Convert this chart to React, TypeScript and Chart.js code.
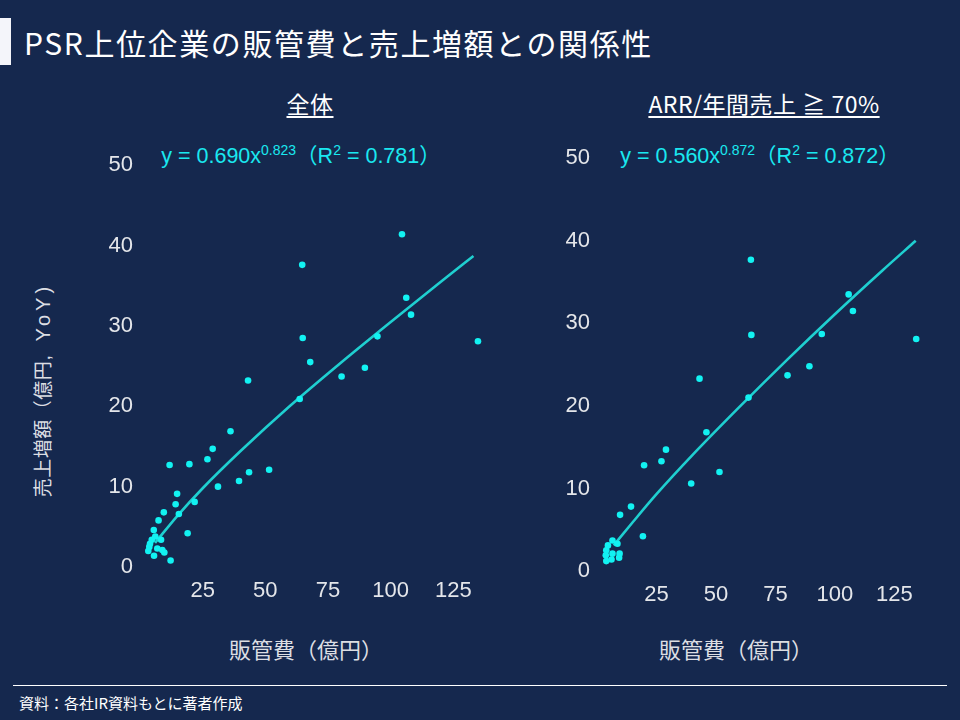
import React, { useEffect, useRef } from "react";
import { Chart, registerables } from "chart.js";

Chart.register(...registerables);

// 全体 (all companies): SG&A (x) vs revenue growth (y), 億円
const allSga = [
  104.5, 64.7, 106.2, 108.1, 64.9, 94.7, 134.8, 67.9, 80.4, 89.7, 43.1, 63.7, 36.1, 29.0, 26.9, 19.7,
  11.8, 51.5, 43.5, 39.5, 31.1, 14.8, 14.2, 21.8, 15.5, 9.5, 7.4, 19.0, 5.5, 12.2, 5.6, 6.1, 8.4, 4.7,
  4.0, 3.7, 6.9, 3.3, 8.9, 9.7,
];
const allGrowth = [
  41.4, 37.6, 33.5, 31.4, 28.5, 28.7, 28.1, 25.5, 23.7, 24.8, 23.2, 20.9, 16.9, 14.7, 13.4, 12.8,
  12.7, 12.1, 11.8, 10.7, 10.0, 9.1, 7.8, 8.1, 6.6, 6.8, 5.8, 4.2, 4.6, 0.8, 1.4, 3.8, 3.4, 3.4,
  2.9, 2.5, 2.3, 2.0, 2.1, 1.8,
];
// trend curve
const allTrendX = [6, 15, 25, 40, 60, 80, 100, 120, 133];
const allTrendY = [3.0, 6.4, 9.8, 14.4, 20.1, 25.4, 30.5, 35.5, 38.7];

// ARR/年間売上 ≧ 70%
const arrSga = [
  64.7, 105.8, 107.6, 64.9, 94.5, 134.2, 89.3, 80.1, 43.1, 63.7, 46.0, 29.0, 27.1, 19.8, 51.5, 39.6,
  14.3, 9.7, 19.3, 6.5, 4.6, 8.6, 3.9, 3.7, 9.5, 9.3, 6.5, 3.9, 6.1,
];
const arrGrowth = [
  37.7, 33.5, 31.5, 28.6, 28.7, 28.1, 24.8, 23.7, 23.3, 21.0, 16.8, 14.7, 13.3, 12.8, 12.0, 10.6,
  7.8, 6.8, 4.2, 3.7, 3.1, 3.3, 2.5, 1.9, 2.1, 1.6, 2.1, 1.2, 1.4,
];
const arrTrendX = [7, 15, 25, 40, 60, 80, 100, 120, 134];
const arrTrendY = [3.1, 5.9, 9.3, 14.0, 19.9, 25.6, 31.1, 36.4, 40.0];

const xTicks = [25, 50, 75, 100, 125];
const yTicks = [0, 10, 20, 30, 40, 50];

const BG = "#15284e";
const DOT = "#12f2f2";
const LINE = "#1fcfd0";
const TICK = "#e4e6ea";
const CJK = "'Noto Sans CJK JP', 'Liberation Sans', sans-serif";
const LATIN = "'Liberation Sans', 'Noto Sans CJK JP', sans-serif";

interface PanelProps {
  xs: number[];
  ys: number[];
  tx: number[];
  ty: number[];
  left: number;
  top: number;
  width: number;
  height: number;
}

const ScatterPanel: React.FC<PanelProps> = ({ xs, ys, tx, ty, left, top, width, height }) => {
  const ref = useRef<HTMLCanvasElement>(null);

  useEffect(() => {
    if (!ref.current) return;
    const chart = new Chart(ref.current, {
      type: "scatter",
      data: {
        datasets: [
          {
            data: xs.map((x, i) => ({ x, y: ys[i] })),
            pointRadius: 3.3,
            pointBackgroundColor: DOT,
            pointBorderWidth: 0,
            order: 1,
          },
          {
            data: tx.map((x, i) => ({ x, y: ty[i] })),
            showLine: true,
            pointRadius: 0,
            borderColor: LINE,
            borderWidth: 2.6,
            cubicInterpolationMode: "monotone",
            order: 2,
          } as any,
        ],
      },
      options: {
        responsive: false,
        animation: false,
        layout: { padding: { top: 20, right: 5, left: 0, bottom: 0 } },
        plugins: { legend: { display: false }, tooltip: { enabled: false } },
        scales: {
          x: {
            type: "linear",
            min: 0,
            max: 140,
            afterBuildTicks: (s: any) => {
              s.ticks = xTicks.map((v) => ({ value: v }));
            },
            afterFit: (s: any) => {
              s.height = 40;
            },
            grid: { display: false, drawTicks: false },
            border: { display: false },
            ticks: { color: TICK, font: { family: LATIN, size: 22 }, padding: 11 },
          },
          y: {
            type: "linear",
            min: 0,
            max: 50,
            afterBuildTicks: (s: any) => {
              s.ticks = yTicks.map((v) => ({ value: v }));
            },
            afterFit: (s: any) => {
              s.width = 50;
            },
            grid: { display: false, drawTicks: false },
            border: { display: false },
            ticks: { color: TICK, font: { family: LATIN, size: 22 }, padding: 7 },
          },
        },
      },
    });
    return () => chart.destroy();
  }, [xs, ys, tx, ty]);

  return (
    <canvas
      ref={ref}
      width={width}
      height={height}
      style={{ position: "absolute", left, top, width, height }}
    />
  );
};

const eqStyle: React.CSSProperties = {
  position: "absolute",
  top: 138,
  color: "#1ae8f0",
  fontFamily: LATIN,
  fontSize: 21.5,
  whiteSpace: "nowrap",
  transform: "translateX(-50%)",
};
const supStyle: React.CSSProperties = { fontSize: 14, verticalAlign: "8px", lineHeight: 0 };

const subStyle: React.CSSProperties = {
  position: "absolute",
  top: 86,
  color: "#ffffff",
  fontFamily: CJK,
  fontSize: 23,
  letterSpacing: 0.5,
  textDecoration: "underline",
  textUnderlineOffset: 3,
  textDecorationThickness: 2,
  whiteSpace: "pre",
  transform: "translateX(-50%)",
};

const xTitleStyle: React.CSSProperties = {
  position: "absolute",
  top: 632,
  color: "#dcdee3",
  fontFamily: CJK,
  fontSize: 22,
  whiteSpace: "nowrap",
  transform: "translateX(-50%)",
};

export default function App() {
  return (
    <div
      style={{
        position: "fixed",
        left: 0,
        top: 0,
        width: 960,
        height: 720,
        background: BG,
        overflow: "hidden",
      }}
    >
      <div style={{ position: "absolute", left: 0, top: 18, width: 11, height: 47, background: "#f4f5fa" }} />
      <div
        style={{
          position: "absolute",
          left: 24,
          top: 22,
          color: "#ffffff",
          fontFamily: CJK,
          fontSize: 30,
          lineHeight: "40px",
          letterSpacing: 1.6,
          whiteSpace: "nowrap",
        }}
      >
        PSR上位企業の販管費と売上増額との関係性
      </div>

      <div style={{ ...subStyle, left: 310 }}>全体</div>
      <div style={{ ...subStyle, left: 764 }}>ARR/年間売上 ≧ 70%</div>

      <div style={{ ...eqStyle, left: 301 }}>
        y = 0.690x<sup style={supStyle}>0.823</sup>（R<sup style={supStyle}>2</sup> = 0.781）
      </div>
      <div style={{ ...eqStyle, left: 760 }}>
        y = 0.560x<sup style={supStyle}>0.872</sup>（R<sup style={supStyle}>2</sup> = 0.872）
      </div>

      <div
        style={{
          position: "absolute",
          left: 41,
          top: 390,
          color: "#dcdee3",
          fontFamily: LATIN,
          fontSize: 19,
          letterSpacing: 0.5,
          whiteSpace: "nowrap",
          transform: "translate(-50%, -50%) rotate(-90deg)",
        }}
      >
        売上増額（億円<span style={{ letterSpacing: 4, fontSize: 20 }}>, YoY)</span>
      </div>

      <ScatterPanel xs={allSga} ys={allGrowth} tx={allTrendX} ty={allTrendY} left={90} top={145} width={406} height={462} />
      <ScatterPanel xs={arrSga} ys={arrGrowth} tx={arrTrendX} ty={arrTrendY} left={547} top={138} width={388} height={473} />

      <div style={{ ...xTitleStyle, left: 306 }}>販管費（億円）</div>
      <div style={{ ...xTitleStyle, left: 736 }}>販管費（億円）</div>

      <div style={{ position: "absolute", left: 13, top: 685, width: 934, height: 1, background: "#ffffff" }} />
      <div
        style={{
          position: "absolute",
          left: 19,
          top: 692,
          color: "#ffffff",
          fontFamily: CJK,
          fontSize: 15,
          whiteSpace: "nowrap",
        }}
      >
        資料：各社IR資料もとに著者作成
      </div>
    </div>
  );
}
